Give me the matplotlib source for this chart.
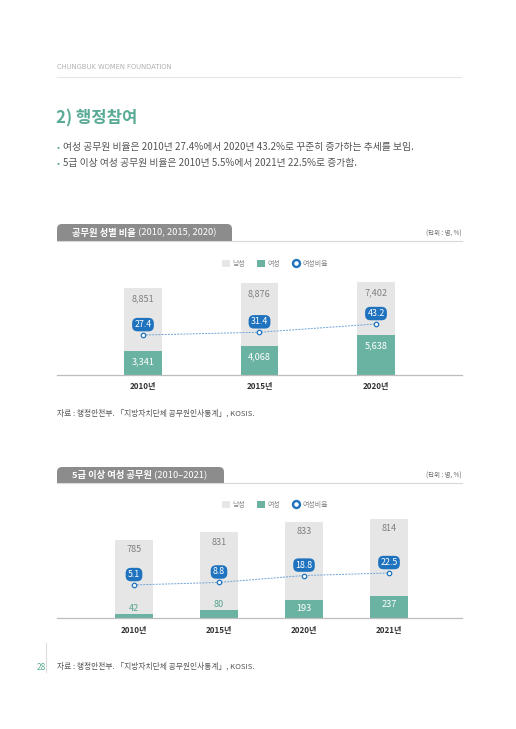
import matplotlib
matplotlib.use("Agg")
import matplotlib.pyplot as plt
from matplotlib.patches import FancyBboxPatch, Rectangle, Patch
from matplotlib.lines import Line2D
import numpy as np

# ---------------- data ----------------
years1 = ["2010년", "2015년", "2020년"]
male1 = [8851, 8876, 7402]
female1 = [3341, 4068, 5638]
ratio1 = [27.4, 31.4, 43.2]

years2 = ["2010년", "2015년", "2020년", "2021년"]
male2 = [785, 831, 833, 814]
female2 = [42, 80, 193, 237]
ratio2 = [5.1, 8.8, 18.8, 22.5]

legend_labels = ["남성", "여성", "여성비율"]
header_text = "CHUNGBUK WOMEN FOUNDATION"
section_title = "2) 행정참여"
bullets = ["여성 공무원 비율은 2010년 27.4%에서 2020년 43.2%로 꾸준히 증가하는 추세를 보임.",
           "5급 이상 여성 공무원 비율은 2010년 5.5%에서 2021년 22.5%로 증가함."]
chart1_title = ("공무원 성별 비율", " (2010, 2015, 2020)")
chart2_title = ("5급 이상 여성 공무원", " (2010–2021)")
unit_text = "(단위 : 명, %)"
source_text = "자료 : 행정안전부. 「지방자치단체 공무원인사통계」, KOSIS."
page_no = "28"

# ---------------- style ----------------
FONT = ["Noto Sans CJK KR", "DejaVu Sans"]
plt.rcParams["font.family"] = FONT
W, H = 516, 729
GRAY_BAR = "#e6e6e6"
TEAL = "#6ab3a2"
TEAL_TXT = "#5aa593"
BLUE = "#1f72bd"
LINE_BLUE = "#6fa3d6"
TITLE_TEAL = "#5aab95"

fig = plt.figure(figsize=(W / 100, H / 100), dpi=100)
fig.patch.set_facecolor("white")

bg = fig.add_axes([0, 0, 1, 1], zorder=0)
bg.set_xlim(0, W)
bg.set_ylim(H, 0)
bg.axis("off")

# header
bg.text(57, 67, header_text, fontsize=4.9, color="#b0b0b0", va="center", ha="left",
        family=["DejaVu Sans"])
bg.plot([57, 461], [77, 77], color="#e6e6e6", lw=0.8)

# title
bg.text(56, 118, section_title, fontsize=12, color=TITLE_TEAL, fontweight="bold",
        va="center", ha="left")

for i, b in enumerate(bullets):
    y = 147 + i * 16
    bg.text(57, y, "•", fontsize=6.5, color=TITLE_TEAL, va="center", ha="left")
    bg.text(63, y, b, fontsize=7.05, color="#555555", va="center", ha="left")


def tab(x0, x1, y0, y1, title):
    p = FancyBboxPatch((x0, y0), x1 - x0, (y1 - y0) * 2, boxstyle="round,pad=0,rounding_size=5",
                       fc="#8c8c8c", ec="none", zorder=1)
    bg.add_patch(p)
    bg.add_patch(Rectangle((x0, y1), x1 - x0, 30, fc="white", ec="none", zorder=1.5))
    bg.plot([x0, 462], [y1, y1], color="#d8d8d8", lw=0.8, zorder=2)
    t = bg.text(72, (y0 + y1) / 2 + 0.5, title[0], fontsize=6.7, color="white", fontweight="bold",
                va="center", ha="left", zorder=3)
    fig.canvas.draw()
    bb = t.get_window_extent()
    xe = bb.x1
    bg.text(xe, H - ((y0 + y1) / 2 + 0.5), title[1], fontsize=6.7, color="white",
            va="center", ha="left", zorder=3, transform=None)
    bg.text(462, (y0 + y1) / 2 + 1, unit_text, fontsize=4.6, color="#666666", va="center",
            ha="right")


tab(57, 232, 224, 241, chart1_title)
tab(57, 224, 467, 483, chart2_title)

bg.text(57, 413, source_text, fontsize=5.6, color="#555555", va="center", ha="left")
bg.text(57, 666, source_text, fontsize=5.6, color="#555555", va="center", ha="left")
bg.text(41, 667, page_no, fontsize=6, color=TITLE_TEAL, va="center", ha="center")
bg.plot([46, 46], [643, 672], color="#dddddd", lw=0.8)


def fr(x0, x1, ytop, ybot):
    return [x0 / W, 1 - ybot / H, (x1 - x0) / W, (ybot - ytop) / H]


def chart(rect, years, male, female, ratio, ylim, y2lim, xlim, width,
          male_off, fem_off, small_thr, legend_y, tick_pad):
    ax = fig.add_axes(rect, zorder=2)
    ax.patch.set_alpha(0)
    x = np.arange(len(years))
    total = np.array(male) + np.array(female)
    ax.bar(x, female, width=width, color=TEAL, zorder=2)
    ax.bar(x, male, bottom=female, width=width, color=GRAY_BAR, zorder=2)
    ax.set_ylim(*ylim)
    ax.set_xlim(*xlim)
    ax.set_xticks(x)
    ax.set_xticklabels(years, fontsize=5.8, color="#333333", fontweight="bold")
    ax.tick_params(axis="x", length=0, pad=tick_pad)
    ax.set_yticks([])
    for s in ["top", "right", "left"]:
        ax.spines[s].set_visible(False)
    ax.spines["bottom"].set_color("#bdbdbd")
    ax.spines["bottom"].set_linewidth(0.9)

    for xi, m, f, t in zip(x, male, female, total):
        ax.annotate(f"{m:,}", (xi, t), xytext=(0, male_off), textcoords="offset points",
                    ha="center", va="center", fontsize=6.6, color="#808080", zorder=4)
        if f / ylim[1] < small_thr:
            ax.annotate(f"{f:,}", (xi, f), xytext=(0, 4), textcoords="offset points",
                        ha="center", va="center", fontsize=6.6, color=TEAL_TXT, zorder=4)
        else:
            ax.annotate(f"{f:,}", (xi, f), xytext=(0, fem_off), textcoords="offset points",
                        ha="center", va="center", fontsize=6.6, color="white", zorder=4)

    ax2 = ax.twinx()
    ax2.set_ylim(*y2lim)
    ax2.axis("off")
    ax2.plot(x, ratio, color=LINE_BLUE, lw=0.7, ls=(0, (2, 1.2)), zorder=3)
    ax2.plot(x, ratio, ls="none", marker="o", ms=3.2, mfc="white", mec=BLUE, mew=0.9, zorder=4)
    for xi, r in zip(x, ratio):
        ax2.annotate(f"{r}", (xi, r), xytext=(0, 7.5), textcoords="offset points",
                     ha="center", va="center", fontsize=6.4, color="white", zorder=5,
                     bbox=dict(boxstyle="round,pad=0.25,rounding_size=0.6", fc=BLUE, ec="none"))

    handles = [Patch(fc=GRAY_BAR, ec="none"), Patch(fc=TEAL, ec="none"),
               Line2D([], [], ls="none", marker="o", ms=5, mfc="white", mec=BLUE, mew=1.7)]
    fig.legend(handles, legend_labels, loc="center", bbox_to_anchor=(275 / W, 1 - legend_y / H),
               ncol=3, frameon=False, fontsize=5, handlelength=1.15, handleheight=1.15,
               handletextpad=0.4, columnspacing=1.7, labelcolor="#888888")
    return ax


chart(fr(57, 462, 270, 375), years1, male1, female1, ratio1,
      ylim=(0, 14727), y2lim=(-29.7, 120.3), xlim=(-0.738, 2.738), width=0.326,
      male_off=-8, fem_off=-8, small_thr=0.1, legend_y=264, tick_pad=5)

chart(fr(57, 462, 510, 618), years2, male2, female2, ratio2,
      ylim=(0, 1149), y2lim=(-42.8, 113.8), xlim=(-0.906, 3.859), width=0.447,
      male_off=-7, fem_off=-6, small_thr=0.1, legend_y=505, tick_pad=6)

fig.savefig("out.png", dpi=100, facecolor="white")
